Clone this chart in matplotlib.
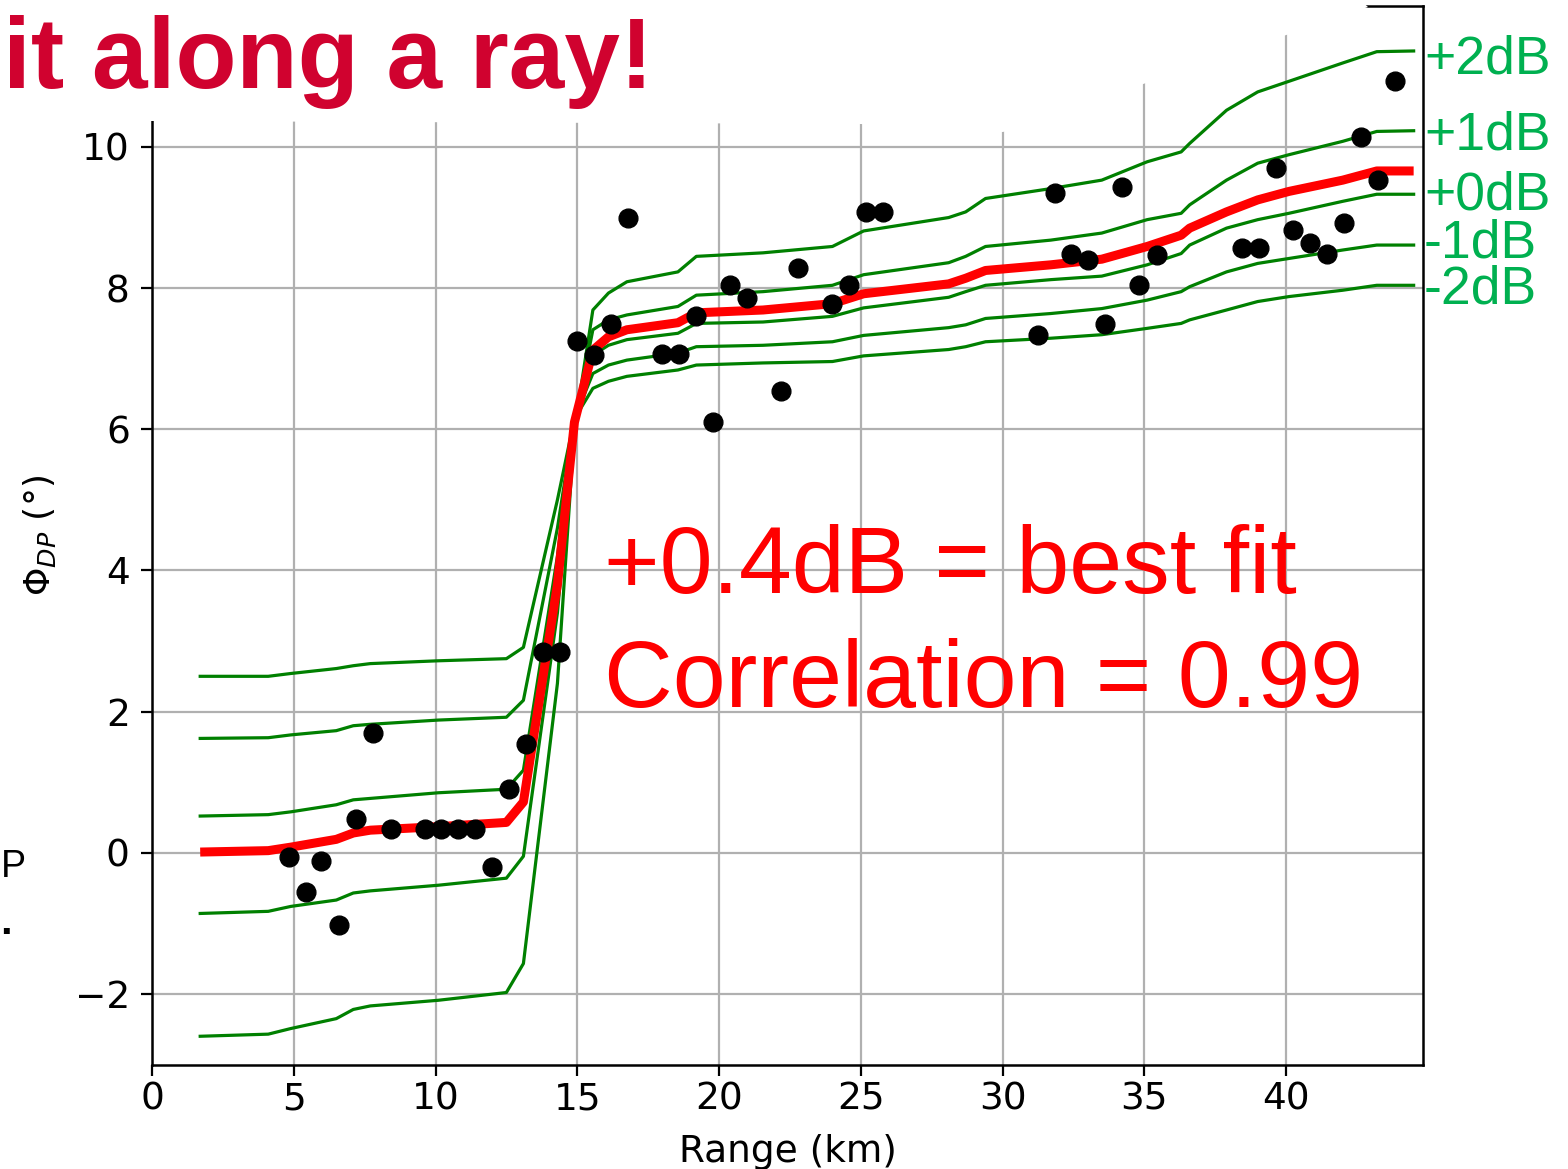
import matplotlib
matplotlib.use("Agg")
import matplotlib.pyplot as plt
from matplotlib.patches import Polygon

# ---------------- data ----------------
range_km = [4.83, 5.43, 5.96, 6.6, 7.2, 7.8, 8.43, 9.63, 10.2, 10.8, 11.4, 12.0, 12.6, 13.2,
            13.8, 14.4, 15.0, 15.6, 16.2, 16.8, 18.0, 18.6, 19.2, 19.8, 20.4, 21.0, 22.2, 22.8,
            24.0, 24.6, 25.2, 25.8, 31.25, 31.85, 32.4, 33.0, 33.6, 34.2, 34.8, 35.45, 38.45,
            39.05, 39.65, 40.25, 40.85, 41.45, 42.05, 42.65, 43.25, 43.85]
phidp_obs = [-0.06, -0.55, -0.11, -1.02, 0.48, 1.70, 0.33, 0.33, 0.33, 0.33, 0.33, -0.2, 0.91, 1.54,
             2.85, 2.85, 7.25, 7.05, 7.49, 8.99, 7.07, 7.07, 7.6, 6.1, 8.05, 7.86, 6.54, 8.29,
             7.78, 8.05, 9.08, 9.08, 7.34, 9.35, 8.48, 8.4, 7.49, 9.43, 8.05, 8.47, 8.57,
             8.57, 9.7, 8.82, 8.64, 8.48, 8.92, 10.14, 9.53, 10.93]

model_km = [1.7, 4.1, 4.9, 6.5, 7.1, 7.7, 10.1, 12.5, 13.1, 14.3, 14.9, 15.55, 16.1, 16.75,
            18.55, 19.2, 21.55, 24.0, 25.1, 28.1, 28.7, 29.4, 31.7, 33.5, 35.1, 36.3, 36.6,
            37.9, 39.0, 40.1, 42.0, 43.2, 44.5]
model_m2 = [2.50, 2.50, 2.54, 2.61, 2.65, 2.68, 2.72, 2.75, 2.91, 5.0, 6.15, 6.58, 6.68, 6.75,
            6.84, 6.91, 6.94, 6.96, 7.04, 7.13, 7.17, 7.24, 7.29, 7.34, 7.43, 7.50, 7.55,
            7.69, 7.81, 7.88, 7.97, 8.04, 8.04]
model_m1 = [1.62, 1.63, 1.67, 1.73, 1.80, 1.82, 1.88, 1.92, 2.16, 4.6, 6.15, 6.79, 6.91, 6.98,
            7.08, 7.17, 7.19, 7.24, 7.33, 7.44, 7.48, 7.57, 7.64, 7.71, 7.83, 7.95, 8.02,
            8.23, 8.35, 8.42, 8.54, 8.61, 8.61]
model_p0 = [0.52, 0.54, 0.58, 0.68, 0.75, 0.77, 0.85, 0.90, 1.17, 4.2, 6.12, 7.05, 7.19, 7.27,
            7.36, 7.50, 7.52, 7.60, 7.72, 7.87, 7.95, 8.04, 8.12, 8.17, 8.33, 8.49, 8.61,
            8.85, 8.97, 9.06, 9.23, 9.33, 9.33]
model_best = [0.01, 0.03, 0.08, 0.19, 0.28, 0.32, 0.37, 0.43, 0.72, 3.8, 6.1, 7.12, 7.31, 7.41,
              7.51, 7.65, 7.69, 7.78, 7.92, 8.06, 8.14, 8.25, 8.33, 8.41, 8.59, 8.75, 8.85,
              9.08, 9.25, 9.37, 9.53, 9.66, 9.66]
model_p1 = [-0.86, -0.83, -0.76, -0.67, -0.57, -0.54, -0.46, -0.36, -0.05, 3.4, 6.08, 7.41, 7.55, 7.62,
            7.74, 7.90, 7.95, 8.04, 8.19, 8.36, 8.45, 8.59, 8.68, 8.78, 8.97, 9.06, 9.18,
            9.53, 9.77, 9.89, 10.08, 10.22, 10.23]
model_p2 = [-2.60, -2.57, -2.49, -2.35, -2.22, -2.17, -2.09, -1.98, -1.57, 2.4, 6.0, 7.69, 7.93, 8.09,
            8.23, 8.45, 8.50, 8.59, 8.81, 9.00, 9.08, 9.27, 9.41, 9.53, 9.79, 9.93, 10.05,
            10.52, 10.78, 10.93, 11.19, 11.35, 11.36]

offset_labels = ["+2dB", "+1dB", "+0dB", "-1dB", "-2dB"]
yticks = [-2, 0, 2, 4, 6, 8, 10]
xticks = [0, 5, 10, 15, 20, 25, 30, 35, 40]

# ---------------- figure ----------------
W, H = 1568, 1169
fig = plt.figure(figsize=(W / 100, H / 100), dpi=100)

def fx(px):
    return px / W

def fy(py):
    return 1 - py / H

ax = fig.add_axes([fx(152), fy(1064.5), fx(1423) - fx(152), fy(5.8) - fy(1064.5)])
ax.set_xlim(0, 44.83)
ax.set_ylim(-3, 12)
ax.set_xticks(xticks)
ax.set_yticks(yticks)
ax.grid(True, color="#b0b0b0", lw=1.6)
ax.set_axisbelow(True)

for series in [model_p2, model_p1, model_p0, model_m1, model_m2]:
    ax.plot(model_km, series, color="green", lw=2.3, zorder=2)
ax.plot(model_km, model_best, color="red", lw=6.5, zorder=3, solid_capstyle="butt")
ax.plot(range_km, phidp_obs, "o", color="black", ms=13.5, zorder=4)

ax.tick_params(labelsize=27, length=8, width=1.6)
ax.tick_params(axis="x", pad=4)
ax.tick_params(axis="y", pad=8)
for s in ax.spines.values():
    s.set_linewidth(1.8)
ax.set_xlabel("Range (km)", fontsize=27, labelpad=12)
ax.set_ylabel(r"$\Phi_{DP}$ ($\degree$)", fontsize=26, labelpad=12)

# white slide box covering the top of the plot
mask_px = [(0, 0), (1360, 0), (1368, 7), (1003, 132), (861, 124), (152, 121), (0, 121)]
fig.add_artist(Polygon([(fx(a), fy(b)) for a, b in mask_px], closed=True,
                       transform=fig.transFigure, facecolor="white", edgecolor="none", zorder=5))

# slide title
fig.text(fx(3), fy(88), "it along a ray!", fontsize=72, fontweight="bold",
         family="Liberation Sans", color="#D0022F", va="baseline", ha="left", zorder=6)

# offset labels
label_y = [60, 136, 196, 243, 290]
for lab, py in zip(offset_labels, label_y):
    fig.text(fx(1424), fy(py), lab, fontsize=38.5, family="Liberation Sans",
             color="#00B050", va="center", ha="left", zorder=6)

# annotation
fig.text(fx(604), fy(593), "+0.4dB = best fit", fontsize=68.5, family="Liberation Sans",
         color="red", va="baseline", ha="left", zorder=6)
fig.text(fx(604), fy(707), "Correlation = 0.99", fontsize=68.5, family="Liberation Sans",
         color="red", va="baseline", ha="left", zorder=6)

# cropped slide text at the left edge
fig.text(fx(1), fy(877), "P", fontsize=27, family="Liberation Sans", color="black",
         va="baseline", ha="left", zorder=6)
fig.text(fx(0), fy(934), ".", fontsize=30, fontweight="bold", family="Liberation Sans",
         color="black", va="baseline", ha="left", zorder=6)

fig.savefig("out.png", dpi=100)
